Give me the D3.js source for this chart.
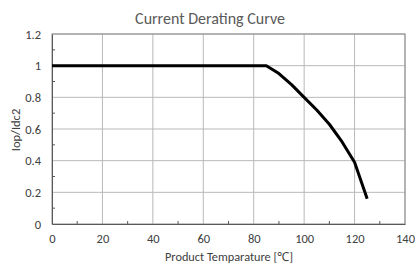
<!DOCTYPE html>
<html><head><meta charset="utf-8">
<script src="https://cdn.jsdelivr.net/npm/d3@7"></script>
<style>body{margin:0;background:#fff}svg{display:block}text{font-family:Calibri,Carlito,"Open Sans",Arial,sans-serif}</style>
</head><body><svg id="c" width="415" height="264"></svg>
<script>
const temps = [0, 85, 90, 95, 100, 105, 110, 115, 120, 125];
const ratio = [1, 1, 0.95, 0.88, 0.8, 0.72, 0.63, 0.52, 0.39, 0.16];
const xTicks = [0, 20, 40, 60, 80, 100, 120, 140];
const yTicks = [0, 0.2, 0.4, 0.6, 0.8, 1, 1.2];
const xMinor = [10, 30, 50, 70, 90, 110, 130];
const yMinor = [0.1, 0.3, 0.5, 0.7, 0.9, 1.1];

const svg = d3.select("#c");
const L = 52, R = 405, T = 34, B = 224;
const x = d3.scaleLinear().domain([0, 140]).range([L, R]);
const y = d3.scaleLinear().domain([0, 1.2]).range([B, T]);

// grid
svg.append("g").selectAll("line").data(xTicks.slice(1)).join("line")
  .attr("x1", d => x(d)).attr("x2", d => x(d)).attr("y1", T).attr("y2", B)
  .attr("stroke", "#b8b8b8").attr("stroke-width", 1);
svg.append("g").selectAll("line").data(yTicks.slice(1)).join("line")
  .attr("x1", L).attr("x2", R).attr("y1", d => y(d)).attr("y2", d => y(d))
  .attr("stroke", "#b8b8b8").attr("stroke-width", 1);
// border
svg.append("rect").attr("x", L).attr("y", T).attr("width", R - L).attr("height", B - T)
  .attr("fill", "none").attr("stroke", "#8c8c8c").attr("stroke-width", 1);

// axes
const xAxis = d3.axisBottom(x).tickValues(xTicks).tickSize(0).tickPadding(10).tickFormat(d3.format("d"));
const gx = svg.append("g").attr("transform", `translate(0,${B})`).call(xAxis);
gx.select(".domain").attr("stroke", "#595959");
gx.selectAll("text").attr("font-size", 12.5).attr("fill", "#404040").attr("font-family", "Carlito,Calibri,sans-serif");
const yAxis = d3.axisLeft(y).tickValues(yTicks).tickSize(0).tickPadding(11).tickFormat(d => d3.format("")(+d.toFixed(1)));
const gy = svg.append("g").attr("transform", `translate(${L},0)`).call(yAxis);
gy.select(".domain").attr("stroke", "#595959");
gy.selectAll("text").attr("font-size", 12.5).attr("fill", "#404040").attr("font-family", "Carlito,Calibri,sans-serif");

// minor ticks (inside)
svg.append("g").selectAll("line").data(xMinor).join("line")
  .attr("x1", d => x(d)).attr("x2", d => x(d)).attr("y1", B).attr("y2", B - 3)
  .attr("stroke", "#595959");
svg.append("g").selectAll("line").data(yMinor).join("line")
  .attr("x1", L).attr("x2", L + 3).attr("y1", d => y(d)).attr("y2", d => y(d))
  .attr("stroke", "#595959");

// curve
const line = d3.line().x((d, i) => x(temps[i])).y(d => y(d));
svg.append("path").datum(ratio).attr("d", line)
  .attr("fill", "none").attr("stroke", "#000").attr("stroke-width", 3).attr("stroke-linejoin", "round");

// titles
svg.append("text").attr("x", 210).attr("y", 24).attr("text-anchor", "middle")
  .attr("font-size", 16).attr("fill", "#595959").text("Current Derating Curve");
svg.append("text").attr("x", 229).attr("y", 261).attr("text-anchor", "middle")
  .attr("font-size", 12.3).attr("fill", "#404040").text("Product Temparature [℃]");
svg.append("text").attr("transform", "translate(20,130) rotate(-90)").attr("text-anchor", "middle")
  .attr("font-size", 12.5).attr("fill", "#404040").text("Iop/Idc2");
</script></body></html>
